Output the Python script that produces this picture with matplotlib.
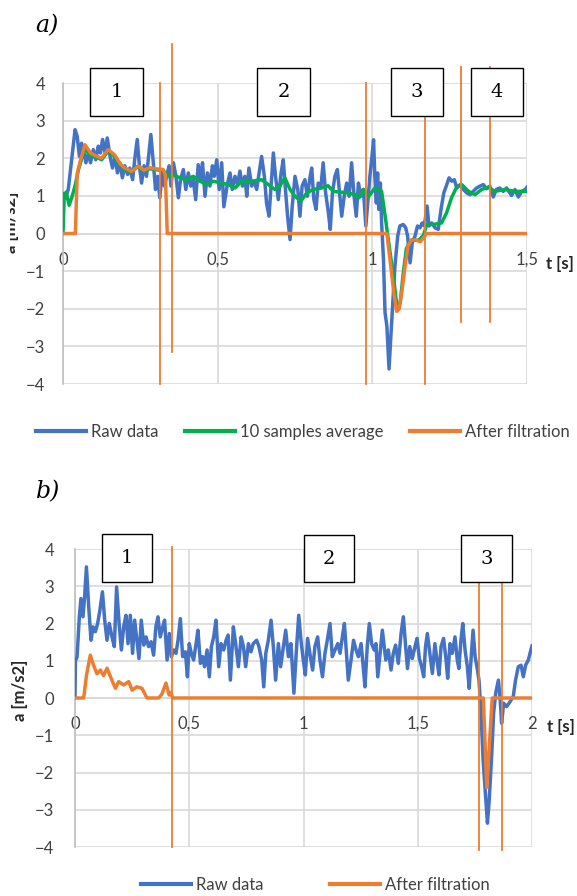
import matplotlib
matplotlib.use("Agg")
import matplotlib.pyplot as plt
from matplotlib.lines import Line2D
from matplotlib.patches import Rectangle

# ---- data: panel a) ----
a_raw_t = [0.000, 0.008, 0.017, 0.028, 0.039, 0.046, 0.053, 0.060, 0.068, 0.074,
           0.082, 0.089, 0.098, 0.106, 0.114, 0.121, 0.128, 0.136, 0.143, 0.152,
           0.160, 0.168, 0.176, 0.184, 0.192, 0.200, 0.209, 0.216, 0.225, 0.233,
           0.240, 0.247, 0.254, 0.262, 0.270, 0.279, 0.284, 0.292, 0.299, 0.306,
           0.313, 0.321, 0.328, 0.335, 0.343, 0.349, 0.357, 0.365, 0.373, 0.380,
           0.389, 0.397, 0.405, 0.413, 0.421, 0.429, 0.437, 0.445, 0.451, 0.459,
           0.467, 0.475, 0.483, 0.489, 0.497, 0.505, 0.513, 0.520,
           0.532, 0.540, 0.547, 0.556, 0.564, 0.572, 0.580, 0.588, 0.594, 0.601,
           0.610, 0.618, 0.626, 0.634, 0.642, 0.651, 0.658, 0.666, 0.672, 0.680,
           0.687, 0.696, 0.705, 0.712, 0.720, 0.726, 0.734, 0.741, 0.750, 0.759,
           0.766, 0.773, 0.782, 0.790, 0.799, 0.804, 0.811, 0.818, 0.825, 0.834,
           0.841, 0.849, 0.858, 0.864, 0.871, 0.879, 0.887, 0.893, 0.901, 0.909,
           0.917, 0.925, 0.933, 0.941, 0.948, 0.955, 0.963, 0.971, 0.979, 0.987,
           0.992, 1.000, 1.004, 1.008, 1.013, 1.017, 1.021, 1.026, 1.030, 1.036,
           1.041, 1.047, 1.054, 1.060, 1.067, 1.073, 1.082, 1.089, 1.100, 1.108,
           1.114, 1.122, 1.129, 1.138, 1.146, 1.154, 1.161, 1.168, 1.177, 1.183,
           1.192, 1.203, 1.213, 1.222, 1.231, 1.239, 1.248, 1.257, 1.265, 1.273,
           1.284, 1.294, 1.305, 1.316, 1.326, 1.337, 1.348, 1.359, 1.369, 1.380,
           1.391, 1.401, 1.412, 1.423, 1.434, 1.450, 1.461, 1.472, 1.483, 1.494,
           1.500]
a_raw = [1.05, 0.95, 1.17, 1.96, 2.76, 2.58, 2.05, 2.40, 2.14, 1.88,
         2.14, 1.88, 2.23, 1.96, 2.32, 2.14, 2.50, 2.14, 2.54, 2.05,
         1.74, 2.05, 1.61, 1.88, 1.48, 1.80, 1.57, 1.74, 1.43, 2.05,
         2.50, 1.80, 1.34, 1.80, 1.52, 2.23, 2.63, 1.88, 1.17, 1.52,
         0.95, 1.70, 1.26, 1.52, 1.80, 1.26, 1.88, 1.52, 0.95, 1.43,
         1.70, 1.17, 1.61, 1.26, 1.43, 0.90, 1.83, 1.43, 1.88, 0.99,
         1.61, 1.26, 1.80, 1.52, 1.96, 1.17, 1.88, 0.71,
         1.34, 1.61, 1.17, 1.52, 1.30, 1.66, 1.26, 1.52, 0.99, 1.74,
         1.26, 1.39, 1.17, 1.61, 2.05, 1.52, 0.81, 0.46, 1.17, 2.14,
         1.52, 0.90, 1.61, 1.96, 1.08, 0.46, -0.16, 0.72, 1.52, 1.17,
         0.46, 1.26, 1.43, 0.99, 1.52, 1.74, 0.90, 0.64, 1.34, 1.26,
         1.88, 1.08, 0.55, 0.11, 1.08, 1.52, 1.70, 1.17, 0.46, 0.99,
         1.34, 0.99, 1.88, 0.99, 0.46, 1.34, 0.99, 1.17, 0.20, 0.99,
         1.52, 2.14, 2.49, 1.52, 0.81, 1.61, 0.64, 1.34, 0.28, -0.69,
         -2.10, -2.46, -3.60, -2.72, -1.75, -0.87, -0.07, 0.20, 0.24, 0.15,
         -0.07, -0.78, -0.25, -0.07, 0.20, 0.15, 0.28, 0.20, 0.73, 0.20,
         0.28, 0.15, 0.11, 0.64, 1.08, 1.26, 1.48, 1.39, 1.43, 1.21,
         1.30, 1.17, 1.08, 1.03, 1.12, 1.21, 1.26, 1.30, 1.19, 1.26,
         0.97, 1.17, 1.21, 1.12, 1.21, 1.01, 1.17, 0.97, 1.12, 1.17,
         1.23]

a_avg_t = [0.000, 0.004, 0.010, 0.020, 0.030, 0.040, 0.050, 0.070, 0.090, 0.110,
           0.125, 0.145, 0.165, 0.185, 0.200, 0.220, 0.240, 0.260, 0.280, 0.300,
           0.325, 0.343, 0.357, 0.378, 0.399, 0.421, 0.443, 0.465, 0.486, 0.513,
           0.535, 0.556, 0.578, 0.610, 0.642, 0.664, 0.685, 0.701, 0.717, 0.734,
           0.750, 0.769, 0.788, 0.809, 0.836, 0.857, 0.874, 0.895, 0.922, 0.944,
           0.957, 0.971, 0.987, 1.008, 1.030, 1.043, 1.050, 1.065, 1.080, 1.090,
           1.100, 1.110, 1.125, 1.150, 1.165, 1.176, 1.197, 1.224, 1.240, 1.256,
           1.273, 1.289, 1.311, 1.332, 1.353, 1.375, 1.396, 1.428, 1.461, 1.500]
a_avg = [0.00, 1.00, 1.10, 0.75, 1.00, 1.30, 1.70, 2.25, 2.08, 2.02,
         1.96, 2.18, 2.05, 1.82, 1.70, 1.62, 1.78, 1.66, 1.72, 1.70,
         1.66, 1.52, 1.56, 1.48, 1.43, 1.52, 1.39, 1.30, 1.39, 1.34,
         1.30, 1.21, 1.39, 1.39, 1.43, 1.30, 1.17, 1.26, 1.48, 1.17,
         0.99, 0.86, 1.08, 1.17, 1.21, 1.27, 1.12, 1.10, 1.08, 1.03,
         0.95, 1.17, 0.97, 1.21, 1.12, 0.37, -0.07, -0.95, -1.95, -1.85,
         -1.05, -0.40, -0.18, -0.18, -0.05, 0.24, 0.24, 0.28, 0.55, 0.95,
         1.24, 1.30, 1.12, 1.03, 1.17, 1.23, 1.12, 1.17, 1.12, 1.12]

a_filt_t = [0.000, 0.040, 0.046, 0.055, 0.071, 0.080, 0.089, 0.110, 0.125, 0.146,
            0.168, 0.185, 0.200, 0.222, 0.244, 0.262, 0.280, 0.300, 0.324, 0.331,
            0.337, 1.047, 1.060, 1.070, 1.079, 1.087, 1.097, 1.107, 1.115, 1.125,
            1.140, 1.155, 1.165, 1.175, 1.500]
a_filt = [0.00, 0.00, 1.60, 1.90, 2.36, 2.25, 2.14, 2.05, 2.00, 2.23,
          2.08, 1.85, 1.74, 1.65, 1.79, 1.68, 1.75, 1.72, 1.70, 1.55,
          0.00, 0.00, -0.90, -1.60, -2.07, -2.00, -1.45, -0.80, -0.35, -0.18,
          -0.17, -0.22, -0.12, 0.00, 0.00]

# phase markers (x, y from, y to) and phase numbers for panel a)
a_marks_x = [0.314, 0.352, 0.980, 1.170, 1.287, 1.381]
a_marks_y0 = [-4.0, -3.16, -4.0, -4.0, -2.36, -2.36]
a_marks_y1 = [4.0, 5.04, 4.0, 4.0, 4.43, 4.43]
a_phases = ["1", "2", "3", "4"]

# ---- data: panel b) ----
b_raw_t = [0.000, 0.002, 0.009, 0.019, 0.026, 0.035, 0.042, 0.050, 0.060, 0.070,
           0.079, 0.089, 0.099, 0.109, 0.120, 0.130, 0.140, 0.150, 0.162, 0.172,
           0.182, 0.193, 0.203, 0.213, 0.223, 0.232, 0.242, 0.252, 0.261, 0.271,
           0.280, 0.290, 0.301, 0.311, 0.322, 0.333, 0.344, 0.354, 0.363, 0.373,
           0.384, 0.392, 0.403, 0.413, 0.422, 0.432, 0.442, 0.451, 0.461, 0.471,
           0.483, 0.492, 0.500, 0.509, 0.519, 0.530, 0.538, 0.549, 0.559, 0.567,
           0.578, 0.588, 0.597, 0.607, 0.617, 0.629, 0.639, 0.651, 0.661, 0.670,
           0.680,
           0.693, 0.703, 0.715, 0.727, 0.737, 0.747, 0.759, 0.770, 0.780, 0.795,
           0.805, 0.817, 0.826, 0.835, 0.846, 0.858, 0.868, 0.878, 0.890, 0.900,
           0.912, 0.922, 0.934, 0.945, 0.958, 0.969, 0.979, 0.989, 0.999, 1.008,
           1.018, 1.030, 1.040, 1.050, 1.062, 1.072, 1.083, 1.094, 1.104, 1.116,
           1.126, 1.138, 1.150, 1.160, 1.170, 1.179, 1.188, 1.196, 1.208, 1.219,
           1.230, 1.240, 1.252, 1.260, 1.269, 1.279, 1.288, 1.298, 1.309, 1.317,
           1.325, 1.335, 1.345,
           1.360, 1.371, 1.383, 1.393, 1.403, 1.415, 1.427, 1.437, 1.447, 1.455,
           1.465, 1.476, 1.488, 1.497, 1.507, 1.517, 1.526, 1.534, 1.542, 1.553,
           1.564, 1.575, 1.586, 1.593, 1.602, 1.613, 1.624, 1.631, 1.641, 1.651,
           1.663, 1.673, 1.680, 1.689, 1.697, 1.707, 1.717, 1.725, 1.733, 1.742,
           1.751, 1.759, 1.768, 1.777, 1.786, 1.794, 1.805, 1.813, 1.824, 1.832,
           1.841, 1.853, 1.861, 1.867, 1.876, 1.889, 1.904, 1.918, 1.928, 1.940,
           1.952, 1.962, 1.972, 1.984, 1.995, 2.000]
b_raw = [0.04, 1.00, 1.10, 2.18, 2.67, 2.18, 2.71, 3.52, 2.45, 1.55,
         1.91, 1.78, 2.00, 2.36, 2.85, 2.09, 1.55, 2.00, 1.64, 1.38,
         2.98, 2.00, 1.29, 1.91, 2.22, 1.46, 2.22, 1.20, 2.09, 1.55,
         1.06, 2.09, 1.42, 1.64, 1.38, 1.51, 1.15, 1.91, 2.18, 1.64,
         1.91, 2.09, 1.02, 1.73, 1.11, 1.29, 1.20, 1.55, 2.13, 1.11,
         1.24, 0.57, 1.46, 1.20, 1.02, 1.46, 1.82, 0.93, 1.11, 0.84,
         1.29, 0.57, 1.38, 1.64, 2.09, 0.84, 1.46, 1.29, 1.55, 1.69,
         0.48,
         1.91, 1.46, 0.84, 1.64, 1.38, 0.84, 1.46, 1.24, 1.46, 1.55,
         1.38, 1.02, 0.30, 1.20, 1.55, 2.09, 1.38, 0.48, 1.46, 0.84,
         1.38, 1.82, 1.11, 1.46, 0.13, 1.29, 2.22, 1.55, 1.02, 0.62,
         1.60, 1.11, 0.75, 1.38, 1.64, 1.02, 0.57, 1.20, 1.55, 2.00,
         1.11, 1.29, 1.46, 1.20, 1.64, 2.00, 1.20, 0.48, 1.02, 1.55,
         1.29, 1.11, 1.46, 0.93, 0.30, 1.38, 2.00, 1.46, 1.29, 1.46,
         0.57, 1.20, 1.82,
         1.02, 1.29, 0.75, 1.20, 1.42, 0.93, 1.73, 2.18, 1.38, 0.79,
         1.38, 1.06, 1.38, 1.60, 1.06, 0.84, 0.57, 1.38, 1.73, 1.20,
         0.66, 1.46, 0.93, 0.62, 1.38, 1.60, 1.02, 0.53, 1.46, 1.20,
         1.64, 1.02, 0.79, 1.55, 2.00, 1.29, 0.84, 0.26, 1.02, 1.82,
         1.11, 0.84, 0.48, -0.41, -1.66, -2.38, -3.36, -2.73, -1.48, -0.41,
         0.13, 0.48, -0.05, -0.68, -0.14, -0.23, -0.10, 0.04, 0.48, 0.84,
         0.88, 0.57, 0.88, 1.02, 1.29, 1.40]

b_filt_t = [0.000, 0.038, 0.050, 0.067, 0.080, 0.096, 0.111, 0.125, 0.140, 0.160,
            0.177, 0.191, 0.213, 0.235, 0.250, 0.270, 0.293, 0.315, 0.366, 0.380,
            0.398, 0.412, 0.420, 0.427, 1.787, 1.802, 1.826, 2.000]
b_filt = [0.00, 0.00, 0.60, 1.15, 0.90, 0.65, 0.75, 0.60, 0.80, 0.50,
          0.26, 0.44, 0.35, 0.44, 0.21, 0.30, 0.26, 0.00, 0.00, 0.10,
          0.40, 0.08, 0.15, 0.00, 0.00, -2.40, 0.00, 0.00]

b_marks_x = [0.424, 1.768, 1.869]
b_marks_y0 = [-4.0, -4.08, -4.08]
b_marks_y1 = [4.05, 3.11, 3.11]
b_phases = ["1", "2", "3"]

BLUE = "#4472C4"
ORANGE = "#ED7D31"
GREEN = "#00B050"
GRID = "#D9D9D9"
W, H = 577, 896
FONT = "Lato"

fig = plt.figure(figsize=(W / 100, H / 100), dpi=100)


def px_axes(l, t, r, b):
    return fig.add_axes([l / W, 1 - b / H, (r - l) / W, (b - t) / H])


def style_axes(ax, xmax, xticks, xlabels, ypad):
    ax.set_xlim(0, xmax)
    ax.set_ylim(-4, 4)
    ax.set_yticks(range(-4, 5))
    ax.set_xticks(xticks)
    ax.set_xticklabels(xlabels)
    ax.grid(True, color=GRID, lw=1.2)
    ax.set_axisbelow(True)
    for s in ["top", "right"]:
        ax.spines[s].set_visible(False)
    ax.spines["bottom"].set_position(("data", 0))
    ax.spines["bottom"].set_color(GRID)
    ax.spines["bottom"].set_linewidth(1.2)
    ax.spines["left"].set_color("#BFBFBF")
    ax.spines["left"].set_linewidth(1.2)
    ax.tick_params(axis="both", length=0, labelsize=12, colors="#404040")
    ax.tick_params(axis="x", pad=13)
    ax.tick_params(axis="y", pad=ypad)
    for lab in ax.get_xticklabels() + ax.get_yticklabels():
        lab.set_fontfamily(FONT)


def phase_box(l, t, r, b, txt):
    fig.add_artist(Rectangle((l / W, 1 - b / H), (r - l) / W, (b - t) / H,
                             transform=fig.transFigure, facecolor="white",
                             edgecolor="black", lw=1.0, zorder=5))
    fig.text((l + r) / 2 / W, 1 - (t + b) / 2 / H, txt, ha="center", va="center",
             fontsize=14, family="DejaVu Serif", zorder=6)


# ---- panel a) ----
ax1 = px_axes(63, 83, 527, 384)
style_axes(ax1, 1.5, [0, 0.5, 1, 1.5], ["0", "0,5", "1", "1,5"], 13)
ax1.plot(a_raw_t, a_raw, color=BLUE, lw=2.5, solid_joinstyle="round", zorder=3)
ax1.plot(a_avg_t, a_avg, color=GREEN, lw=2.5, solid_joinstyle="round", zorder=4)
ax1.plot(a_filt_t, a_filt, color=ORANGE, lw=2.5, solid_joinstyle="round", zorder=5)
for x, y0, y1 in zip(a_marks_x, a_marks_y0, a_marks_y1):
    ax1.plot([x, x], [y0, y1], color=ORANGE, lw=1.3, clip_on=False, zorder=7)

for (l, t, r, b), txt in zip([(90, 68, 143, 116), (257, 68, 310, 116),
                              (391, 68, 443, 116), (471, 68, 523, 116)], a_phases):
    phase_box(l, t, r, b, txt)

fig.text(35 / W, 1 - 26 / H, "a)", fontsize=17, family="DejaVu Serif",
         style="italic", va="center")
fig.text(560 / W, 1 - 264 / H, "t [s]", fontsize=12, family=FONT,
         weight="bold", ha="center", va="center", color="#262626")
fig.text(11 / W, 1 - 222 / H, "a [m/s2]", fontsize=12, family=FONT,
         weight="bold", rotation=90, ha="center", va="center", color="#262626")
fig.add_artist(Rectangle((0, 1 - 262 / H), 10 / W, 84 / H, transform=fig.transFigure,
                         facecolor="white", edgecolor="none", zorder=10))

h1 = [Line2D([], [], color=c, lw=3) for c in (BLUE, GREEN, ORANGE)]
fig.legend(h1, ["Raw data", "10 samples average", "After filtration"], ncol=3,
           loc="center", bbox_to_anchor=(303 / W, 1 - 432 / H), frameon=False,
           prop={"family": FONT, "size": 12}, handlelength=3.0, handletextpad=0.3,
           columnspacing=1.6, labelcolor="#404040")

# ---- panel b) ----
ax2 = px_axes(75, 549, 532, 847)
style_axes(ax2, 2, [0, 0.5, 1, 1.5, 2], ["0", "0,5", "1", "1,5", "2"], 15)
ax2.plot(b_raw_t, b_raw, color=BLUE, lw=2.5, solid_joinstyle="round", zorder=3)
ax2.plot(b_filt_t, b_filt, color=ORANGE, lw=2.5, solid_joinstyle="round", zorder=5)

for (l, t, r, b), txt in zip([(102, 534, 152, 582), (304, 535, 354, 582),
                              (461, 535, 512, 582)], b_phases):
    phase_box(l, t, r, b, txt)
for x, y0, y1 in zip(b_marks_x, b_marks_y0, b_marks_y1):
    ax2.plot([x, x], [y0, y1], color=ORANGE, lw=1.3, clip_on=False, zorder=7)

fig.text(36 / W, 1 - 492 / H, "b)", fontsize=17, family="DejaVu Serif",
         style="italic", va="center")
fig.text(561 / W, 1 - 727 / H, "t [s]", fontsize=12, family=FONT,
         weight="bold", ha="center", va="center", color="#262626")
fig.text(20 / W, 1 - 690 / H, "a [m/s2]", fontsize=12, family=FONT,
         weight="bold", rotation=90, ha="center", va="center", color="#262626")

h2 = [Line2D([], [], color=c, lw=3) for c in (BLUE, ORANGE)]
fig.legend(h2, ["Raw data", "After filtration"], ncol=2, loc="center",
           bbox_to_anchor=(315 / W, 1 - 885 / H), frameon=False,
           prop={"family": FONT, "size": 12}, handlelength=3.0, handletextpad=0.3,
           columnspacing=4.0, labelcolor="#404040")

fig.savefig("out.png", dpi=100)
